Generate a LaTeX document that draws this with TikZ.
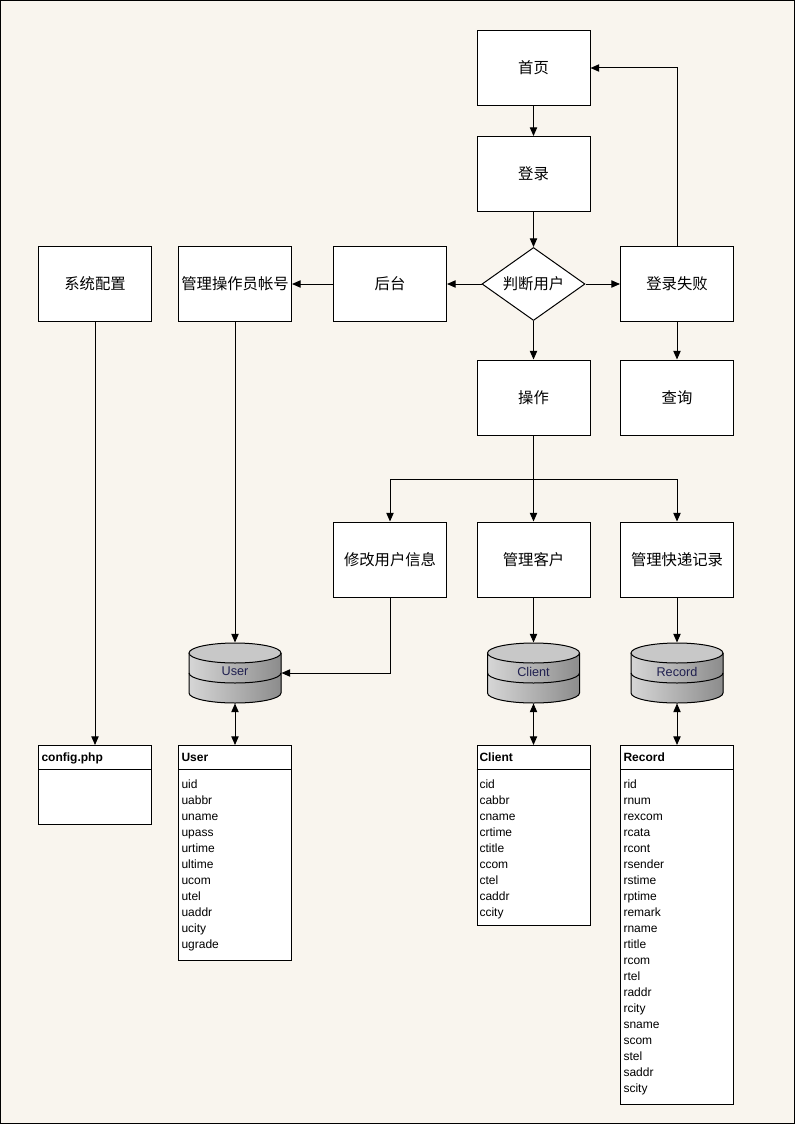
\documentclass[tikz,border=0pt]{standalone}
\usepackage{fontspec}
\setmainfont{Liberation Sans}
\newfontfamily\cjk{Noto Sans CJK SC}
\usetikzlibrary{shapes.geometric,arrows.meta}
\newcommand{\cjkbox}{\cjk\fontsize{11.5pt}{13pt}\selectfont}
\definecolor{paper}{HTML}{F9F5EE}
\definecolor{cylL}{HTML}{D6D6D6}
\definecolor{cylR}{HTML}{8C8C8C}
\definecolor{cylTop}{HTML}{C8C8C8}
\definecolor{dblabel}{HTML}{202050}

% database cylinder: #1 name, #2 centre x, #3 label
\newcommand{\dbcyl}[3]{%
  \fill[left color=cylL, right color=cylR]
    (#2-46,653) -- (#2-46,693)
    arc[start angle=180,end angle=360,x radius=34.5pt,y radius=7.5pt]
    -- (#2+46,653) -- cycle;
  \draw (#2-46,653) -- (#2-46,693)
    arc[start angle=180,end angle=360,x radius=34.5pt,y radius=7.5pt]
    -- (#2+46,653);
  \draw (#2-46,673) arc[start angle=180,end angle=360,x radius=34.5pt,y radius=7.5pt];
  \filldraw[fill=cylTop] (#2,653) ellipse[x radius=34.5pt,y radius=7.5pt];
  \node[dbnode] (#1) at (#2,673) {};
  \node[font=\fontsize{9.5pt}{10pt}\selectfont, text=dblabel] (#1-lbl) at (#2,671.5) {#3};
}

\begin{document}
\begin{tikzpicture}[x=0.75pt,y=-0.75pt,line width=0.75pt,
  box/.style={draw, fill=white, minimum width=84.75pt, minimum height=56.25pt,
    inner sep=0pt, font=\cjkbox},
  judge/.style={draw, fill=white, diamond, minimum width=77.25pt,
    minimum height=54.75pt, inner sep=0pt},
  arr/.style={-{Triangle[length=6.5pt,width=5.5pt]}},
  darr/.style={{Triangle[length=6.5pt,width=5.5pt]}-{Triangle[length=6.5pt,width=5.5pt]}},
  dbnode/.style={minimum width=69pt, minimum height=45pt, inner sep=0pt},
  tbl/.style={draw, fill=white, minimum width=84.75pt, inner sep=0pt, anchor=north},
  hdr/.style={anchor=base west, inner sep=0pt, font=\fontsize{9pt}{10pt}\selectfont\bfseries},
  fld/.style={anchor=base west, inner sep=0pt, font=\fontsize{9pt}{10pt}\selectfont}]

% page
\useasboundingbox (0,0) rectangle (795,1124);
\filldraw[fill=paper, draw=black] (0.5,0.5) rectangle (794.5,1123.5);

% flow boxes
\node[box] (home)   at (533.5,68)    {首页};
\node[box] (login)  at (533.5,174)   {登录};
\node[judge] (judge) at (533.5,284) {};
\node[font=\cjkbox, inner sep=0pt] (judge-lbl) at (533.5,284) {判断用户};
\node[box] (admin)  at (390,284)     {后台};
\node[box] (oper)   at (235,284)     {管理操作员帐号};
\node[box] (config) at (95,284)      {系统配置};
\node[box] (fail)   at (677,284)     {登录失败};
\node[box] (query)  at (677,397.5)   {查询};
\node[box] (op)     at (533.5,397.5) {操作};
\node[box] (modify) at (390,559.5)   {修改用户信息};
\node[box] (client) at (533.5,559.5) {管理客户};
\node[box] (record) at (677,559.5)   {管理快递记录};
\coordinate (split) at (533.5,479);

% databases
\dbcyl{udb}{235}{User}
\dbcyl{cdb}{533.5}{Client}
\dbcyl{rdb}{677}{Record}

% tables
\node[tbl, minimum height=59.25pt]  (cfgtbl) at (95,745)    {};
\node[tbl, minimum height=161.25pt] (usrtbl) at (235,745)   {};
\node[tbl, minimum height=135pt]    (clitbl) at (533.5,745) {};
\node[tbl, minimum height=269.25pt] (rectbl) at (677,745)   {};
\foreach \t in {cfgtbl,usrtbl,clitbl,rectbl}
  \draw ([yshift=-18pt]\t.north west) -- ([yshift=-18pt]\t.north east);

\node[hdr] (cfghdr) at (41,761.5)  {config.php};
\node[hdr] (usrhdr) at (181,761.5) {User};
\node[hdr] (clihdr) at (479,761.5) {Client};
\node[hdr] (rechdr) at (623,761.5) {Record};

\foreach \f [count=\i from 0] in {uid,uabbr,uname,upass,urtime,ultime,ucom,utel,uaddr,ucity,ugrade}
  \node[fld] (u\i) at (181,{788.5+16*\i}) {\f};
\foreach \f [count=\i from 0] in {cid,cabbr,cname,crtime,ctitle,ccom,ctel,caddr,ccity}
  \node[fld] (c\i) at (479,{788.5+16*\i}) {\f};
\foreach \f [count=\i from 0] in {rid,rnum,rexcom,rcata,rcont,rsender,rstime,rptime,remark,rname,rtitle,rcom,rtel,raddr,rcity,sname,scom,stel,saddr,scity}
  \node[fld] (r\i) at (623,{788.5+16*\i}) {\f};

% connectors
\draw[arr] (home) -- (login);
\draw[arr] (login) -- (judge);
\draw[arr] (judge) -- (admin);
\draw[arr] (admin) -- (oper);
\draw[arr] (judge) -- (fail);
\draw[arr] (judge) -- (op);
\draw[arr] (fail) -- (query);
\draw[arr] (fail.north) |- (home.east);
\draw[arr] (op) -- (client);
\draw[arr] (split) -| (modify.north);
\draw[arr] (split) -| (record.north);
\draw[arr] (oper.south) -- (udb.north);
\draw[arr] (modify.south) |- (udb.east);
\draw[arr] (client.south) -- (cdb.north);
\draw[arr] (record.south) -- (rdb.north);
\draw[arr] (config.south) -- (cfgtbl.north);
\draw[darr] (udb.south) -- (usrtbl.north);
\draw[darr] (cdb.south) -- (clitbl.north);
\draw[darr] (rdb.south) -- (rectbl.north);
\end{tikzpicture}
\end{document}
